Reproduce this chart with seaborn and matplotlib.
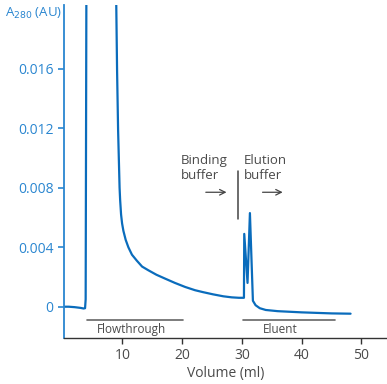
import matplotlib
matplotlib.use("Agg")
import matplotlib.pyplot as plt
import seaborn as sns

# chromatogram
volume = [0.2, 1.0, 2.0, 3.0, 3.5, 3.75, 3.85, 4.0, 8.8, 9.11, 9.28, 9.53,
          9.62, 9.78, 9.95, 10.17, 10.55, 11.0, 11.6, 12.41, 13.3, 14.35,
          15.7, 17.15, 18.8, 20.5, 22.16, 23.5, 25.2, 26.9, 28.3, 29.5,
          30.35, 30.4, 30.95, 31.35, 31.85, 32.3, 33.0, 34.0, 36.0, 40.0,
          45.0, 48.2]
absorbance = [0.0, 0.0, -0.00003, -0.00008, -0.00012, -0.0001, 0.0005, 0.026,
              0.026, 0.0159, 0.0119, 0.008, 0.0072, 0.0062, 0.0056, 0.0051,
              0.0045, 0.0040, 0.0035, 0.0031, 0.0027, 0.00245, 0.00215,
              0.00189, 0.0016, 0.00133, 0.00111, 0.00098, 0.00083, 0.0007,
              0.00063, 0.0006, 0.0006, 0.0049, 0.0016, 0.0063, 0.0004,
              0.0001, -0.0001, -0.00022, -0.0003, -0.00038, -0.00045,
              -0.00047]

x_ticks = [10, 20, 30, 40, 50]
y_ticks = [0, 0.004, 0.008, 0.012, 0.016]
y_ticklabels = ["0", "0.004", "0.008", "0.012", "0.016"]

line_blue = "#0a6cbc"
axis_blue = "#2a86d0"
grey = "#4a4a4a"

sns.set_style("ticks")
plt.rcParams["font.family"] = ["Open Sans", "DejaVu Sans"]

fig = plt.figure(figsize=(3.87, 3.84), dpi=100)
ax = fig.add_axes([0.165, 0.12, 0.835, 0.867])

sns.lineplot(x=volume, y=absorbance, ax=ax, color=line_blue, linewidth=1.6,
             sort=False, estimator=None)

ax.set_xlim(0.2, 54.3)
ax.set_ylim(-0.0021, 0.0203)
ax.set_xticks(x_ticks)
ax.set_xticklabels([str(v) for v in x_ticks])
ax.set_yticks(y_ticks)
ax.set_yticklabels(y_ticklabels)

sns.despine(ax=ax)
ax.spines["left"].set_color(axis_blue)
ax.spines["left"].set_linewidth(1.3)
ax.spines["bottom"].set_color("#333333")
ax.spines["bottom"].set_linewidth(1.0)
ax.tick_params(axis="y", colors=axis_blue, labelsize=10, length=4, width=1.2)
ax.tick_params(axis="x", colors="#333333", labelcolor=grey, labelsize=10,
               length=4, width=1.0)

ax.set_xlabel("Volume (ml)", color=grey, fontsize=10, labelpad=2)
ax.set_ylabel("")
fig.text(0.012, 0.985, r"A$_{280}$ (AU)", color=axis_blue, fontsize=9.5,
         ha="left", va="top")

# fraction bars
ax.plot([4.0, 20.1], [-0.0009, -0.0009], color="#666666", lw=1.2)
ax.text(11.6, -0.0015, "Flowthrough", color=grey, fontsize=8.5,
        ha="center", va="center")
ax.plot([30.2, 45.6], [-0.0009, -0.0009], color="#666666", lw=1.2)
ax.text(36.4, -0.0015, "Eluent", color=grey, fontsize=8.5,
        ha="center", va="center")

# buffer switch
ax.plot([29.3, 29.3], [0.0059, 0.0091], color="#444444", lw=1.1)
ax.text(19.8, 0.0103, "Binding\nbuffer", color=grey, fontsize=9.5,
        ha="left", va="top", linespacing=1.25)
ax.text(30.4, 0.0103, "Elution\nbuffer", color=grey, fontsize=9.5,
        ha="left", va="top", linespacing=1.25)
ax.annotate("", xy=(27.9, 0.0077), xytext=(23.5, 0.0077),
            arrowprops=dict(arrowstyle="->", color="#444444", lw=0.9))
ax.annotate("", xy=(37.3, 0.0077), xytext=(33.0, 0.0077),
            arrowprops=dict(arrowstyle="->", color="#444444", lw=0.9))

fig.savefig("out.png", dpi=100)
